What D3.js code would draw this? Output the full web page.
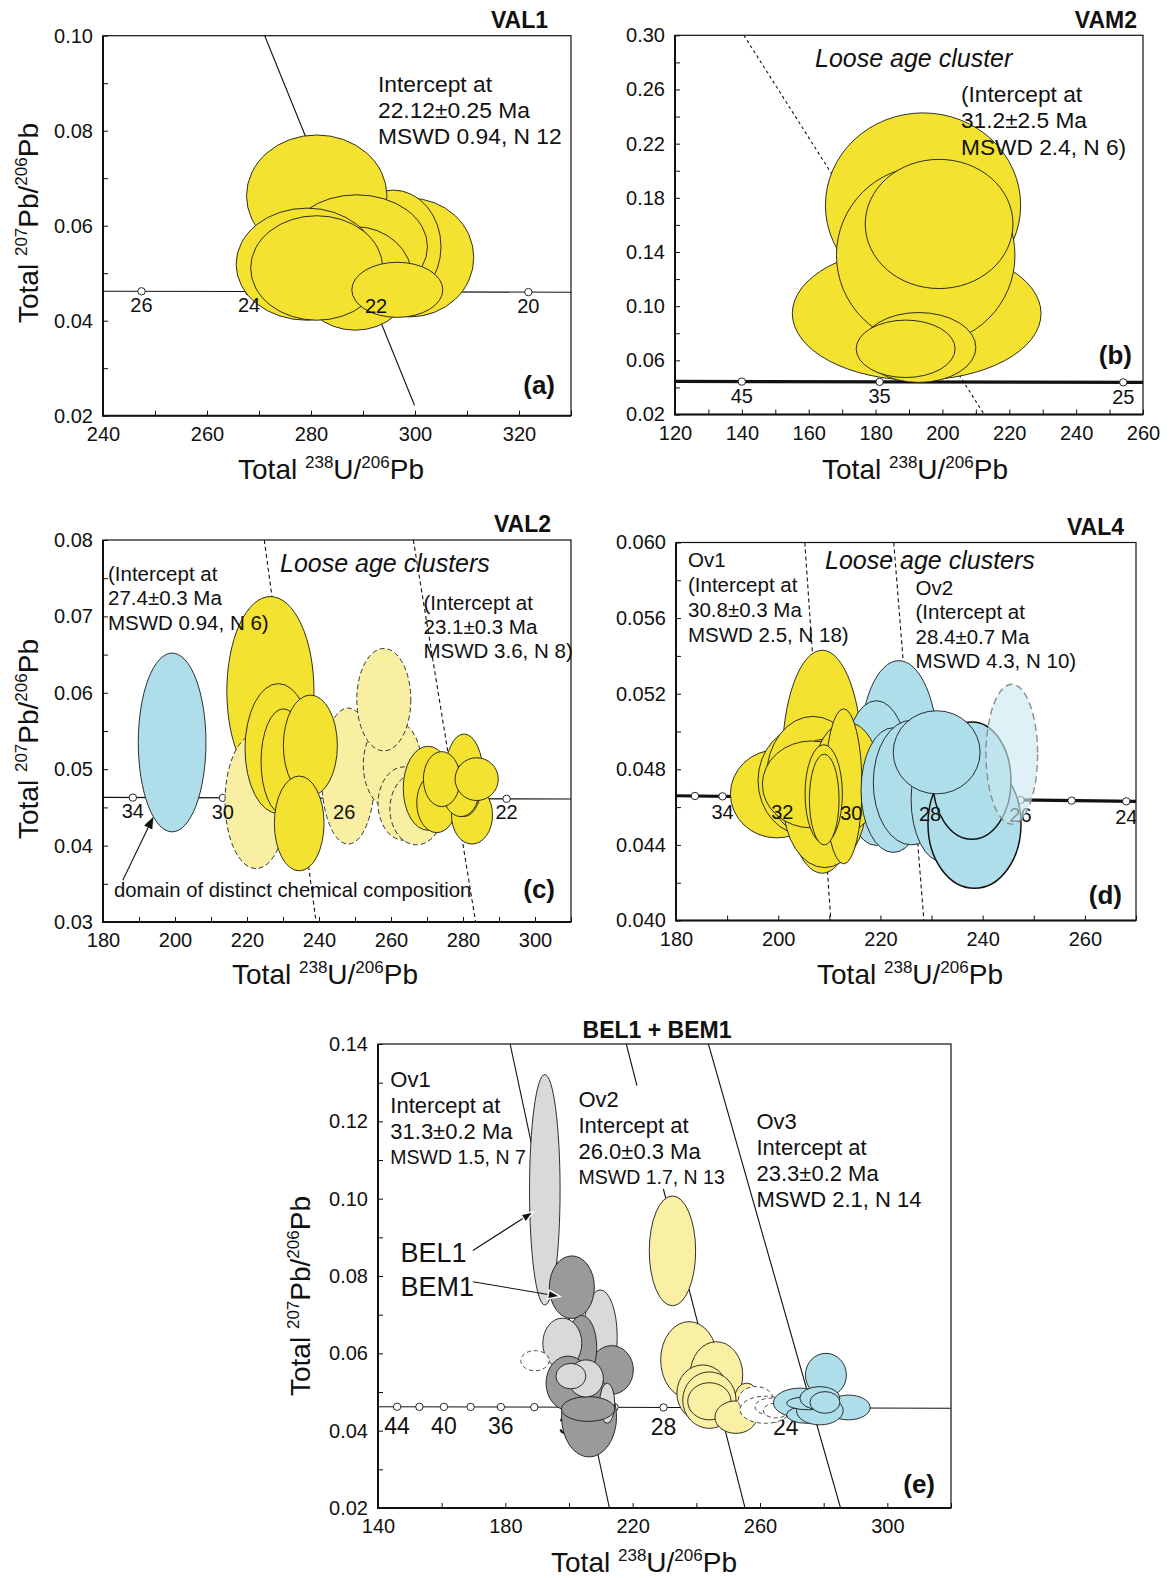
<!DOCTYPE html>
<html>
<head>
<meta charset="utf-8">
<title>Tera-Wasserburg diagrams</title>
<script src="https://cdn.jsdelivr.net/npm/d3@7/dist/d3.min.js"></script>
<style>
  html, body { margin: 0; padding: 0; background: #fff; }
  svg { display: block; }
</style>
</head>
<body>
<svg id="fig" width="1169" height="1578"></svg>
<script>
// ---------------------------------------------------------------------------
// Data. Each analysis ellipse: [238U/206Pb centre, 207Pb/206Pb centre,
// half-width (238U/206Pb), half-height (207Pb/206Pb), group]
// ---------------------------------------------------------------------------

// (a) VAL1
const val1Ellipses = [
  [299.0, 0.0533, 12.3, 0.0125, "yellow"],
  [295.8, 0.0556, 9.2, 0.0119, "yellow"],
  [281.1, 0.0663, 13.5, 0.0128, "yellow"],
  [288.8, 0.0556, 13.6, 0.0109, "yellow"],
  [288.5, 0.0489, 11.0, 0.0109, "yellow"],
  [279.2, 0.0519, 13.6, 0.0118, "yellow"],
  [281.1, 0.0511, 12.7, 0.0110, "yellow"],
  [296.6, 0.0465, 8.75, 0.0058, "yellow"]
];
const val1Concordia = [[240, 0.0462], [330, 0.0460]];
const val1Markers = [247.4, 268.1, 292.5, 321.8];
const val1AgeLabels = [["26", 247.4], ["24", 268.1], ["22", 292.5], ["20", 321.8]];
const val1Lines = [[[271.1, 0.100], [299.9, 0.0222]]];
const val1XTicks = [240, 260, 280, 300, 320];
const val1YTicks = [0.02, 0.04, 0.06, 0.08, 0.10];

// (b) VAM2
const vam2Ellipses = [
  [194.2, 0.1745, 29.2, 0.0682, "yellow"],
  [192.3, 0.0946, 37.2, 0.0493, "yellow"],
  [195.0, 0.1376, 26.7, 0.0658, "yellow"],
  [199.0, 0.1607, 22.1, 0.0477, "yellow"],
  [192.9, 0.0695, 17.1, 0.0258, "yellow"],
  [189.0, 0.0685, 14.8, 0.0212, "yellow"]
];
const vam2Concordia = [[120, 0.0444], [260, 0.0437]];
const vam2Markers = [140.0, 181.2, 254.1];
const vam2AgeLabels = [["45", 140.0], ["35", 181.2], ["25", 254.1]];
const vam2Lines = [[[140.6, 0.30], [212.5, 0.02]]];
const vam2XTicks = [120, 140, 160, 180, 200, 220, 240, 260];
const vam2YTicks = [0.02, 0.06, 0.10, 0.14, 0.18, 0.22, 0.26, 0.30];

// (c) VAL2
const val2Ellipses = [
  [199.2, 0.0535, 9.4, 0.0117, "blue"],
  [226.5, 0.0602, 12.1, 0.0124, "yellow"],
  [222.5, 0.0458, 8.6, 0.0088, "paleDash"],
  [248.1, 0.0491, 7.4, 0.0089, "paleDash"],
  [228.7, 0.0527, 9.25, 0.0085, "yellow"],
  [230.1, 0.0510, 6.2, 0.0069, "yellow"],
  [237.6, 0.0531, 7.5, 0.0066, "yellow"],
  [234.5, 0.0429, 6.9, 0.0062, "yellow"],
  [260.4, 0.0506, 8.1, 0.0059, "paleDash"],
  [258.0, 0.0591, 7.5, 0.0067, "paleDash"],
  [263.6, 0.0455, 7.2, 0.0048, "paleDash"],
  [267.1, 0.0448, 7.4, 0.0047, "paleDash"],
  [270.3, 0.0475, 6.9, 0.0055, "yellow"],
  [272.7, 0.0456, 5.55, 0.0039, "yellow"],
  [282.5, 0.0440, 5.7, 0.0038, "yellow"],
  [280.3, 0.0492, 5.3, 0.0054, "yellow"],
  [279.4, 0.0471, 5.0, 0.0033, "yellow"],
  [274.1, 0.0487, 5.1, 0.0036, "yellow"],
  [283.8, 0.0487, 6.0, 0.0028, "yellow"]
];
const val2Concordia = [[180, 0.0463], [310, 0.0461]];
const val2Markers = [188.3, 213.3, 247.4, 292.1];
const val2AgeLabels = [["34", 188.3], ["30", 213.3], ["26", 247.0], ["22", 292.1]];
const val2Lines = [[[224.8, 0.08], [239.2, 0.03]], [[266.2, 0.08], [283.5, 0.03]]];
const val2XTicks = [180, 200, 220, 240, 260, 280, 300];
const val2YTicks = [0.03, 0.04, 0.05, 0.06, 0.07, 0.08];

// (d) VAL4
const val4Ellipses = [
  [208.6, 0.0484, 7.85, 0.0059, "yellow"],
  [223.6, 0.0489, 7.65, 0.00485, "blue"],
  [219.2, 0.0478, 6.5, 0.00383, "blue"],
  [199.7, 0.0467, 9.05, 0.00233, "yellow"],
  [205.5, 0.0474, 9.45, 0.0029, "yellow"],
  [206.8, 0.0476, 9.1, 0.0032, "yellow"],
  [209.1, 0.0462, 8.1, 0.0034, "yellow"],
  [206.5, 0.0472, 9.6, 0.0023, "yellow"],
  [213.4, 0.0476, 6.5, 0.0029, "yellow"],
  [212.8, 0.0471, 3.6, 0.0041, "yellow"],
  [208.9, 0.0467, 3.65, 0.0026, "yellow"],
  [209.0, 0.0464, 2.9, 0.0024, "yellow"],
  [222.5, 0.0469, 6.3, 0.0033, "blue"],
  [226.1, 0.0473, 7.5, 0.0033, "blue"],
  [232.2, 0.0464, 6.2, 0.0033, "blue"],
  [238.4, 0.0451, 9.1, 0.0034, "blueBold"],
  [237.9, 0.0474, 7.65, 0.0031, "blueBold"],
  [231.0, 0.0489, 8.5, 0.0022, "blue"],
  [245.7, 0.0488, 5.05, 0.0037, "overlay"]
];
const val4Concordia = [[180, 0.0466], [270, 0.0463]];
const val4Markers = [183.7, 189.1, 200.8, 214.3, 229.7, 247.4, 257.4, 268.1];
const val4AgeLabels = [["34", 189.1], ["32", 200.8], ["30", 214.3], ["28", 229.7], ["26", 247.4], ["24", 268.1]];
const val4Lines = [[[205.2, 0.06], [210.3, 0.04]], [[222.6, 0.06], [228.5, 0.04]]];
const val4XTicks = [180, 200, 220, 240, 260];
const val4YTicks = [0.040, 0.044, 0.048, 0.052, 0.056, 0.060];

// (e) BEL1 + BEM1
const belEllipses = [
  [192.4, 0.1023, 4.8, 0.0298, "grayLight"],
  [209.8, 0.0643, 5.34, 0.0121, "grayLight"],
  [200.9, 0.0771, 7.07, 0.0081, "grayDark"],
  [213.4, 0.0557, 6.81, 0.0063, "grayDark"],
  [204.0, 0.0615, 4.71, 0.0083, "grayDark"],
  [197.9, 0.0626, 6.13, 0.0065, "grayLight"],
  [189.3, 0.0581, 4.45, 0.0026, "whiteDash"],
  [206.3, 0.0436, 8.64, 0.0104, "grayDark"],
  [199.7, 0.0523, 6.91, 0.0070, "grayDark"],
  [212.0, 0.0471, 2.36, 0.0052, "grayLight"],
  [206.0, 0.0456, 8.38, 0.0032, "grayDark"],
  [205.3, 0.0535, 5.5, 0.0048, "grayLight"],
  [200.6, 0.0541, 4.71, 0.0033, "grayLight"],
  [232.5, 0.0865, 7.28, 0.0142, "paleYellow"],
  [237.7, 0.0583, 8.9, 0.0099, "paleYellow"],
  [246.3, 0.0544, 8.27, 0.0086, "paleYellow"],
  [255.8, 0.0484, 3.7, 0.0039, "paleYellow"],
  [242.0, 0.0497, 8.1, 0.0073, "paleYellow"],
  [244.1, 0.0479, 8.38, 0.0073, "paleYellow"],
  [244.1, 0.0476, 6.8, 0.0048, "paleYellow"],
  [252.4, 0.0435, 6.55, 0.0042, "paleYellow"],
  [258.7, 0.0479, 5.5, 0.0035, "whiteDash"],
  [261.6, 0.0454, 7.85, 0.0035, "whiteDash"],
  [263.4, 0.0462, 4.97, 0.0022, "whiteDash"],
  [265.0, 0.0452, 3.93, 0.0019, "whiteDash"],
  [280.7, 0.0544, 6.44, 0.0056, "blue"],
  [287.8, 0.0460, 6.8, 0.0032, "blue"],
  [272.6, 0.0472, 8.38, 0.0038, "blue"],
  [274.6, 0.0441, 6.28, 0.0022, "blue"],
  [278.8, 0.0452, 7.33, 0.0037, "blue"],
  [275.2, 0.0471, 6.8, 0.0017, "blue"],
  [278.8, 0.0484, 6.28, 0.0030, "blue"],
  [280.4, 0.0473, 4.7, 0.0028, "blue"]
];
const belConcordia = [[140, 0.0462], [320, 0.0458]];
const belMarkers = [146.0, 153.0, 160.7, 169.1, 178.6, 189.1, 200.8, 214.3, 229.7, 247.4, 268.1, 292.5];
const belAgeLabels = [["44", 146.0], ["40", 160.7], ["36", 178.6], ["32", 200.8], ["28", 229.7], ["24", 268.1]];
const belLines = [[[181.5, 0.14], [212.7, 0.02]], [[218.0, 0.14], [255.3, 0.02]], [[243.8, 0.14], [285.3, 0.02]]];
const belXTicks = [140, 180, 220, 260, 300];
const belYTicks = [0.02, 0.04, 0.06, 0.08, 0.10, 0.12, 0.14];

// ---------------------------------------------------------------------------
// Styles and layout
// ---------------------------------------------------------------------------
const FONT = '"Liberation Sans", Arial, Helvetica, sans-serif';
const INK = "#111";
const AXIS_TITLE = 28, AXIS_SUP = 17;

const ELL_STYLE = {
  yellow:     { fill: "#f3e22f", stroke: "#1a1a1a", sw: 0.9 },
  paleDash:   { fill: "#f8efa3", stroke: "#333",    sw: 1.0, dash: "5,3" },
  blue:       { fill: "#addeea", stroke: "#1a1a1a", sw: 0.9 },
  blueBold:   { fill: "#addeea", stroke: "#111",    sw: 1.5 },
  overlay:    { fill: "#c9e8f0", stroke: "#8c8c8c", sw: 1.4, dash: "7,4", fillOpacity: 0.62 },
  grayLight:  { fill: "#d9d9d9", stroke: "#1a1a1a", sw: 0.9 },
  grayDark:   { fill: "#9a9a9a", stroke: "#1a1a1a", sw: 0.9 },
  whiteDash:  { fill: "#ffffff", stroke: "#333",    sw: 0.9, dash: "4,3" },
  paleYellow: { fill: "#f9f0a3", stroke: "#1a1a1a", sw: 0.9 }
};

const panels = [
  {
    id: "a", frame: { left: 103, right: 571, top: 35.7, bottom: 415.7 },
    xDomain: [240, 330], yDomain: [0.02, 0.10], xMajor: val1XTicks, xStep: 10,
    yMajor: val1YTicks, yStep: 0.01, yFmt: ".2f",
    ellipses: val1Ellipses, concordia: val1Concordia, concWidth: 1.1,
    markers: val1Markers, ageLabels: val1AgeLabels, ageDy: 13.5, ageSize: 20, labelsOver: true,
    lines: val1Lines, lineDash: null,
    title: { text: "VAL1", x: 548, y: 20, anchor: "end" },
    tag: { text: "(a)", x: 555, y: 385 },
    xTitle: { x: 331, y: 469 }, yTitle: { x: 28, y: 223 },
    notes: [
      { x: 378, y: 83.5, lh: 26.3, size: 22.8, lines: ["Intercept at", "22.12±0.25 Ma", "MSWD 0.94, N 12"] }
    ]
  },
  {
    id: "b", frame: { left: 675, right: 1143, top: 35.3, bottom: 414.5 },
    xDomain: [120, 260], yDomain: [0.02, 0.30], xMajor: vam2XTicks, xStep: 10,
    yMajor: vam2YTicks, yStep: 0.02, yFmt: ".2f",
    ellipses: vam2Ellipses, concordia: vam2Concordia, concWidth: 3.2,
    markers: vam2Markers, ageLabels: vam2AgeLabels, ageDy: 14, ageSize: 20, labelsOver: true,
    lines: vam2Lines, lineDash: "3,3",
    title: { text: "VAM2", x: 1137, y: 20, anchor: "end" },
    tag: { text: "(b)", x: 1132, y: 355 },
    xTitle: { x: 915, y: 469 }, yTitle: null,
    notes: [
      { x: 815, y: 58.4, lh: 26, size: 25, italic: true, lines: ["Loose age cluster"] },
      { x: 961, y: 93.6, lh: 26.6, size: 22.7, lines: ["(Intercept at", "31.2±2.5 Ma", "MSWD 2.4, N 6)"] }
    ]
  },
  {
    id: "c", frame: { left: 103, right: 571, top: 540, bottom: 922 },
    xDomain: [180, 310], yDomain: [0.03, 0.08], xMajor: val2XTicks, xStep: 10,
    yMajor: val2YTicks, yStep: 0.005, yFmt: ".2f",
    ellipses: val2Ellipses, concordia: val2Concordia, concWidth: 1.2,
    markers: val2Markers, ageLabels: val2AgeLabels, ageDy: 13.5, ageSize: 20, labelsOver: true,
    lines: val2Lines, lineDash: "4,3",
    title: { text: "VAL2", x: 551, y: 524, anchor: "end" },
    tag: { text: "(c)", x: 555, y: 889 },
    xTitle: { x: 325, y: 974 }, yTitle: { x: 28, y: 739 },
    notes: [
      { x: 108, y: 573.4, lh: 24.7, size: 20.5, lines: ["(Intercept at", "27.4±0.3 Ma", "MSWD 0.94, N 6)"] },
      { x: 280, y: 563.4, lh: 26, size: 25, italic: true, lines: ["Loose age clusters"] },
      { x: 423.5, y: 602.6, lh: 24.2, size: 20.5, lines: ["(Intercept at", "23.1±0.3 Ma", "MSWD 3.6, N 8)"] },
      { x: 114, y: 889.3, lh: 24, size: 20.3, lines: ["domain of distinct chemical composition"] }
    ],
    arrows: [{ from: [185.5, 0.03546], to: [194.0, 0.04378], halo: false }]
  },
  {
    id: "d", frame: { left: 676, right: 1136, top: 542.5, bottom: 920.5 },
    xDomain: [180, 270], yDomain: [0.040, 0.060], xMajor: val4XTicks, xStep: 10,
    yMajor: val4YTicks, yStep: 0.002, yFmt: ".3f",
    ellipses: val4Ellipses, concordia: val4Concordia, concWidth: 3.2,
    markers: val4Markers, ageLabels: val4AgeLabels, ageDy: 15, ageSize: 20, labelsOver: true,
    lines: val4Lines, lineDash: "4,3",
    title: { text: "VAL4", x: 1124, y: 527, anchor: "end" },
    tag: { text: "(d)", x: 1122, y: 895 },
    xTitle: { x: 910, y: 974 }, yTitle: null,
    notes: [
      { x: 688, y: 559.3, lh: 25.2, size: 20.5, lines: ["Ov1", "(Intercept at", "30.8±0.3 Ma", "MSWD 2.5, N 18)"] },
      { x: 825, y: 560.4, lh: 26, size: 25, italic: true, lines: ["Loose age clusters"] },
      { x: 915.5, y: 587.5, lh: 24.5, size: 20.5, lines: ["Ov2", "(Intercept at", "28.4±0.7 Ma", "MSWD 4.3, N 10)"] }
    ]
  },
  {
    id: "e", frame: { left: 378, right: 951, top: 1044, bottom: 1508 },
    xDomain: [140, 320], yDomain: [0.02, 0.14], xMajor: belXTicks, xStep: 20,
    yMajor: belYTicks, yStep: 0.01, yFmt: ".2f",
    ellipses: belEllipses, concordia: belConcordia, concWidth: 1.1,
    markers: belMarkers, ageLabels: belAgeLabels, ageDy: 19, ageSize: 23, labelsOver: false,
    lines: belLines, lineDash: null,
    title: { text: "BEL1 + BEM1", x: 657, y: 1030, anchor: "middle" },
    tag: { text: "(e)", x: 935, y: 1484 },
    xTitle: { x: 644, y: 1562 }, yTitle: { x: 300, y: 1296 },
    notes: [
      { x: 390.3, y: 1079.4, lh: 25.8, size: 22, lines: ["Ov1", "Intercept at", "31.3±0.2 Ma", { t: "MSWD 1.5, N 7", size: 19.5 }] },
      { x: 578.5, y: 1098.6, lh: 26.1, size: 22, mask: true, lines: ["Ov2", "Intercept at", "26.0±0.3 Ma", { t: "MSWD 1.7, N 13", size: 19.5 }] },
      { x: 756.5, y: 1120.7, lh: 26.2, size: 22, lines: ["Ov3", "Intercept at", "23.3±0.2 Ma", "MSWD 2.1, N 14"] },
      { x: 400.4, y: 1252.5, lh: 34.2, size: 27, lines: ["BEL1", "BEM1"] }
    ],
    arrows: [
      { from: [169.8, 0.0866], to: [188.8, 0.0966], halo: true },
      { from: [169.8, 0.0785], to: [197.2, 0.0747], halo: true }
    ]
  }
];

// ---------------------------------------------------------------------------
// Drawing
// ---------------------------------------------------------------------------
const svg = d3.select("#fig").attr("font-family", FONT);
const defs = svg.append("defs");

function near(v, list) { return list.some(m => Math.abs(m - v) < 1e-9); }
function steps(d0, d1, step) {
  const out = [];
  const n = Math.round((d1 - d0) / step);
  for (let i = 0; i <= n; i++) out.push(+(d0 + i * step).toFixed(6));
  return out;
}

// "Total ^aX/^bPb" with raised isotope masses
function isotopeTitle(sel, a, el, b) {
  sel.append("tspan").text("Total ");
  sel.append("tspan").attr("font-size", AXIS_SUP).attr("dy", -11).text(a);
  sel.append("tspan").attr("dy", 11).text(el + "/");
  sel.append("tspan").attr("font-size", AXIS_SUP).attr("dy", -11).text(b);
  sel.append("tspan").attr("dy", 11).text("Pb");
}

function drawEllipses(layer, list, x, y) {
  list.forEach(e => {
    const [cx, cy, hw, hh, grp] = e;
    const st = ELL_STYLE[grp];
    layer.append("ellipse")
      .attr("cx", x(cx)).attr("cy", y(cy))
      .attr("rx", Math.abs(x(cx + hw) - x(cx)))
      .attr("ry", Math.abs(y(cy) - y(cy + hh)))
      .attr("fill", st.fill)
      .attr("fill-opacity", st.fillOpacity == null ? 1 : st.fillOpacity)
      .attr("stroke", st.stroke)
      .attr("stroke-width", st.sw)
      .attr("stroke-dasharray", st.dash || null);
  });
}

function drawArrow(layer, x1, y1, x2, y2, halo) {
  const ang = Math.atan2(y2 - y1, x2 - x1);
  const len = 12, half = 4.5;
  const bx = x2 - len * Math.cos(ang), by = y2 - len * Math.sin(ang);
  layer.append("line")
    .attr("x1", x1).attr("y1", y1).attr("x2", bx).attr("y2", by)
    .attr("stroke", INK).attr("stroke-width", 1.1);
  const px = -Math.sin(ang) * half, py = Math.cos(ang) * half;
  layer.append("path")
    .attr("d", `M${x2},${y2}L${bx + px},${by + py}L${bx - px},${by - py}Z`)
    .attr("fill", INK)
    .attr("stroke", halo ? "#fff" : "none")
    .attr("stroke-width", halo ? 1.4 : 0);
}

function drawPanel(p) {
  const f = p.frame;
  const x = d3.scaleLinear().domain(p.xDomain).range([f.left, f.right]);
  const y = d3.scaleLinear().domain(p.yDomain).range([f.bottom, f.top]);
  const g = svg.append("g").attr("class", "panel-" + p.id);

  defs.append("clipPath").attr("id", "clip-" + p.id)
    .append("rect").attr("x", f.left).attr("y", f.top)
    .attr("width", f.right - f.left).attr("height", f.bottom - f.top);
  const plot = g.append("g").attr("clip-path", `url(#clip-${p.id})`);

  // discordia / reference lines behind the data
  p.lines.forEach(seg => {
    plot.append("line")
      .attr("x1", x(seg[0][0])).attr("y1", y(seg[0][1]))
      .attr("x2", x(seg[1][0])).attr("y2", y(seg[1][1]))
      .attr("stroke", INK).attr("stroke-width", 1.1)
      .attr("stroke-dasharray", p.lineDash);
  });

  // concordia curve and age markers
  const c = p.concordia;
  const concY = v => c[0][1] + (c[1][1] - c[0][1]) * (v - c[0][0]) / (c[1][0] - c[0][0]);
  plot.append("path")
    .attr("d", d3.line().x(d => x(d[0])).y(d => y(d[1]))(c))
    .attr("fill", "none").attr("stroke", INK).attr("stroke-width", p.concWidth);
  plot.selectAll("circle.age").data(p.markers).join("circle")
    .attr("class", "age")
    .attr("cx", d => x(d)).attr("cy", d => y(concY(d)))
    .attr("r", 3.7).attr("fill", "#fff").attr("stroke", INK).attr("stroke-width", 0.9);

  const drawAgeLabels = () => {
    plot.selectAll("text.agelbl").data(p.ageLabels).join("text")
      .attr("class", "agelbl")
      .attr("x", d => x(d[1]))
      .attr("y", d => y(concY(d[1])) + p.ageDy + 0.36 * p.ageSize)
      .attr("text-anchor", "middle")
      .attr("font-size", p.ageSize).attr("fill", INK)
      .text(d => d[0]);
  };

  if (!p.labelsOver) drawAgeLabels();
  drawEllipses(plot, p.ellipses.filter(e => e[4] !== "overlay"), x, y);
  if (p.labelsOver) drawAgeLabels();
  drawEllipses(plot, p.ellipses.filter(e => e[4] === "overlay"), x, y);

  // annotation text blocks
  p.notes.forEach(n => {
    const t = g.append("text")
      .attr("font-size", n.size)
      .attr("font-style", n.italic ? "italic" : null)
      .attr("fill", INK);
    n.lines.forEach((ln, i) => {
      const txt = typeof ln === "string" ? ln : ln.t;
      const sz = typeof ln === "string" ? n.size : ln.size;
      t.append("tspan")
        .attr("x", n.x)
        .attr("y", n.y + i * n.lh + 0.36 * sz)
        .attr("font-size", sz)
        .text(txt);
    });
    if (n.mask) {
      // white backing so the age line stops behind the text block
      const bb = t.node().getBBox();
      g.insert("rect", () => t.node())
        .attr("x", bb.x - 2).attr("y", bb.y - 1)
        .attr("width", bb.width - 12).attr("height", bb.height + 2)
        .attr("fill", "#fff");
    }
  });

  (p.arrows || []).forEach(a => {
    drawArrow(g, x(a.from[0]), y(a.from[1]), x(a.to[0]), y(a.to[1]), a.halo);
  });

  // axes: inward ticks at every step, labels at the major values
  const xAll = steps(p.xDomain[0], p.xDomain[1], p.xStep);
  const yAll = steps(p.yDomain[0], p.yDomain[1], p.yStep);
  const yf = d3.format(p.yFmt);

  const xAxis = d3.axisBottom(x).tickValues(xAll)
    .tickSizeInner(-5).tickSizeOuter(0).tickPadding(11)
    .tickFormat(v => near(v, p.xMajor) ? d3.format("d")(v) : "");
  const yAxis = d3.axisLeft(y).tickValues(yAll)
    .tickSizeInner(-5).tickSizeOuter(0).tickPadding(10)
    .tickFormat(v => near(v, p.yMajor) ? yf(v) : "");

  const gx = g.append("g").attr("transform", `translate(0,${f.bottom})`).call(xAxis);
  const gy = g.append("g").attr("transform", `translate(${f.left},0)`).call(yAxis);
  [gx, gy].forEach(ax => {
    ax.attr("font-size", 20).attr("font-family", FONT);
    ax.select(".domain").remove();
    ax.selectAll(".tick line").attr("stroke", INK).attr("stroke-width", 1);
    ax.selectAll(".tick text").attr("fill", INK);
  });

  // frame: heavier left and bottom axes
  g.append("rect")
    .attr("x", f.left).attr("y", f.top)
    .attr("width", f.right - f.left).attr("height", f.bottom - f.top)
    .attr("fill", "none").attr("stroke", INK).attr("stroke-width", 1.2);
  g.append("path")
    .attr("d", `M${f.left},${f.top}V${f.bottom}H${f.right}`)
    .attr("fill", "none").attr("stroke", INK).attr("stroke-width", 2);

  // titles
  g.append("text")
    .attr("x", p.title.x).attr("y", p.title.y + 0.36 * 23)
    .attr("text-anchor", p.title.anchor)
    .attr("font-size", 23).attr("font-weight", "bold").attr("fill", INK)
    .text(p.title.text);
  g.append("text")
    .attr("x", p.tag.x).attr("y", p.tag.y + 0.36 * 26)
    .attr("text-anchor", "end")
    .attr("font-size", 26).attr("font-weight", "bold").attr("fill", INK)
    .text(p.tag.text);

  const xt = g.append("text")
    .attr("x", p.xTitle.x).attr("y", p.xTitle.y + 0.36 * AXIS_TITLE)
    .attr("text-anchor", "middle").attr("font-size", AXIS_TITLE).attr("fill", INK);
  isotopeTitle(xt, "238", "U", "206");

  if (p.yTitle) {
    const yt = g.append("text")
      .attr("transform", `translate(${p.yTitle.x + 0.36 * AXIS_TITLE},${p.yTitle.y}) rotate(-90)`)
      .attr("text-anchor", "middle").attr("font-size", AXIS_TITLE).attr("fill", INK);
    isotopeTitle(yt, "207", "Pb", "206");
  }
}

panels.forEach(drawPanel);
</script>
</body>
</html>
